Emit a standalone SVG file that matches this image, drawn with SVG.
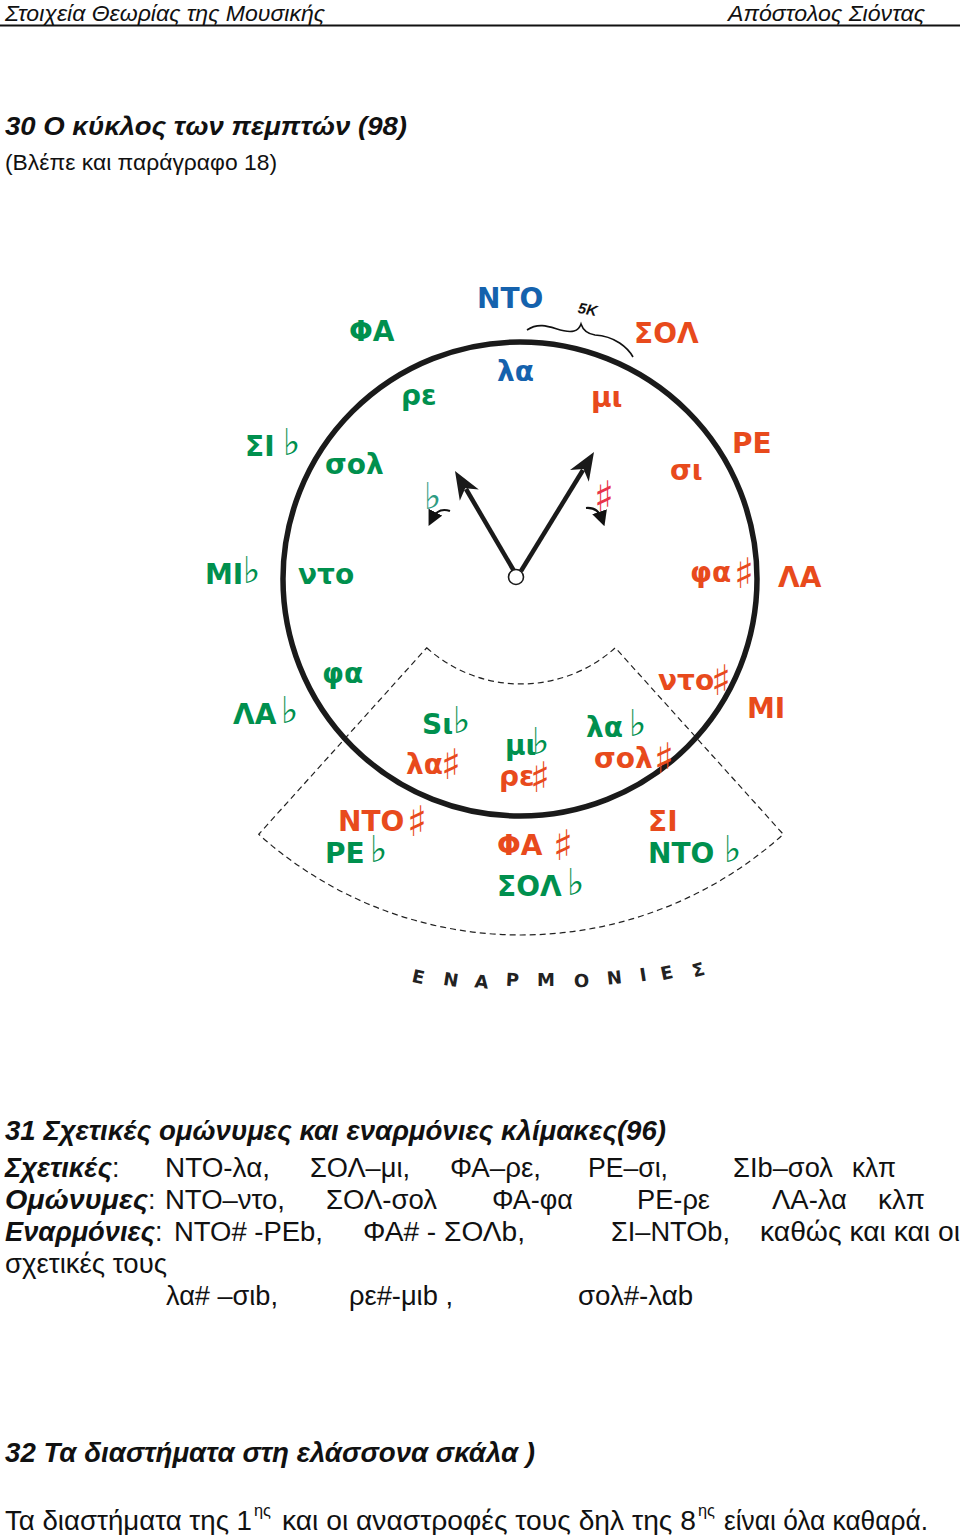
<svg xmlns="http://www.w3.org/2000/svg" width="960" height="1535" viewBox="0 0 960 1535">
<style>
.t{font-family:"Liberation Sans",Arial,sans-serif;fill:#111}
.it{font-style:italic}
.b{font-weight:bold}
.hdr{font-size:22px}
.body{font-size:27px}
.lab{font-family:"DejaVu Sans","Liberation Sans",sans-serif;font-weight:bold;font-size:28px}
.sh{font-family:"DejaVu Sans",sans-serif;font-weight:normal;font-size:42px}
.fl{font-family:"DejaVu Sans",sans-serif;font-weight:normal;font-size:37px}
.g{fill:#00904e}
.o{fill:#e84a1c}
.bl{fill:#1562ad}
.enh{font-family:"DejaVu Sans","Liberation Sans",sans-serif;font-weight:bold;font-size:18px;fill:#222}
</style>
<defs>
<marker id="sm" viewBox="0 0 10 10" refX="5" refY="5" markerWidth="7" markerHeight="7" orient="auto"><path d="M0 0 L10 5 L0 10 z" fill="#111"/></marker>
</defs>
<rect width="960" height="1535" fill="#fff"/>

<g id="header">
<text class="t it hdr" x="5" y="21" textLength="320" lengthAdjust="spacingAndGlyphs">Στοιχεία Θεωρίας της Μουσικής</text>
<text class="t it hdr" x="728" y="21" textLength="197" lengthAdjust="spacingAndGlyphs">Απόστολος Σιόντας</text>
<line x1="0" y1="25.5" x2="960" y2="25.5" stroke="#111" stroke-width="2"/>
</g>

<g id="title30">
<text class="t it b" x="5" y="135" font-size="26" textLength="402" lengthAdjust="spacingAndGlyphs">30 Ο κύκλος των πεμπτών (98)</text>
<text class="t" x="5" y="170" font-size="22" textLength="272" lengthAdjust="spacingAndGlyphs">(Βλέπε και παράγραφο 18)</text>
</g>

<g id="connectors">
<path id="enharmonic-sector" d="M426.7 647.8 A141 141 0 0 0 615.3 647.8 L783.3 834.3 A392 392 0 0 1 258.7 834.3 Z" fill="none" stroke="#222" stroke-width="1.2" stroke-dasharray="6 4"/>
<circle cx="520" cy="579" r="237" fill="none" stroke="#1a1a1a" stroke-width="5.5"/>
<path id="brace" d="M527 330 C545 318 560 335 574 331 C578 330 580 327 581 324 C583 330 588 334 595 335 C615 336 628 348 633 357" fill="none" stroke="#111" stroke-width="1.6"/>
<line x1="514" y1="571" x2="466" y2="489" stroke="#1a1a1a" stroke-width="4.5"/>
<polygon points="455,471 478.8,489.5 465.2,488.2 459.8,500.7" fill="#1a1a1a"/>
<line x1="521" y1="571" x2="583" y2="470" stroke="#1a1a1a" stroke-width="4.5"/>
<polygon points="594,452 588.8,481.7 583.5,469 570,470.1" fill="#1a1a1a"/>
<circle cx="516" cy="577" r="7.5" fill="#fff" stroke="#1a1a1a" stroke-width="1.6"/>
<path d="M450 511 Q438 507 432 519" fill="none" stroke="#111" stroke-width="2.2" marker-end="url(#sm)"/>
<path d="M586 508 Q598 507 602 519" fill="none" stroke="#111" stroke-width="2.2" marker-end="url(#sm)"/>
</g>

<g id="n-5k"><text class="t it b" x="578" y="315" font-size="15" transform="rotate(10 590 310)">5K</text></g>
<g id="n-flat-dir"><text class="fl" x="424" y="509" fill="#2e9c82">♭</text></g>
<g id="n-sharp-dir"><text class="sh" x="594" y="511" fill="#e8334a">♯</text></g>

<g id="n-FA"><text class="lab g" x="349" y="341">ΦΑ</text></g>
<g id="n-NTO"><text class="lab bl" x="477" y="308">ΝΤΟ</text></g>
<g id="n-SOL"><text class="lab o" x="634" y="343">ΣΟΛ</text></g>
<g id="n-la"><text class="lab bl" x="497" y="381">λα</text></g>
<g id="n-re"><text class="lab g" x="401" y="405">ρε</text></g>
<g id="n-mi"><text class="lab o" x="591" y="407">μι</text></g>
<g id="n-SIb"><text class="lab g" x="245" y="456">ΣΙ</text><text class="fl g" x="283" y="455">♭</text></g>
<g id="n-sol"><text class="lab g" x="325" y="474">σολ</text></g>
<g id="n-RE"><text class="lab o" x="732" y="453">ΡΕ</text></g>
<g id="n-si"><text class="lab o" x="670" y="480">σι</text></g>
<g id="n-MIb"><text class="lab g" x="205" y="584">ΜΙ</text><text class="fl g" x="243" y="583">♭</text></g>
<g id="n-nto"><text class="lab g" x="298" y="584">ντο</text></g>
<g id="n-fa-sharp"><text class="lab o" x="690" y="582">φα</text><text class="sh o" x="734" y="588">♯</text></g>
<g id="n-LA"><text class="lab o" x="778" y="587">ΛΑ</text></g>
<g id="n-fa"><text class="lab g" x="322" y="683">φα</text></g>
<g id="n-LAb"><text class="lab g" x="233" y="724">ΛΑ</text><text class="fl g" x="281" y="723">♭</text></g>
<g id="n-nto-sharp"><text class="lab o" x="658" y="690">ντο</text><text class="sh o" x="711" y="695">♯</text></g>
<g id="n-MI"><text class="lab o" x="747" y="718">ΜΙ</text></g>
<g id="n-sib"><text class="lab g" x="422" y="734">Sι</text><text class="fl g" x="453" y="733">♭</text></g>
<g id="n-la-sharp"><text class="lab o" x="406" y="774">λα</text><text class="sh o" x="441" y="779">♯</text></g>
<g id="n-mib"><text class="lab g" x="505" y="755">μι</text><text class="fl g" x="532" y="754">♭</text></g>
<g id="n-re-sharp"><text class="lab o" x="499" y="786">ρε</text><text class="sh o" x="530" y="792">♯</text></g>
<g id="n-lab"><text class="lab g" x="586" y="737">λα</text><text class="fl g" x="629" y="736">♭</text></g>
<g id="n-sol-sharp"><text class="lab o" x="594" y="768">σολ</text><text class="sh o" x="654" y="773">♯</text></g>
<g id="n-NTO-sharp"><text class="lab o" x="338" y="831">ΝΤΟ</text><text class="sh o" x="407" y="836">♯</text></g>
<g id="n-REb"><text class="lab g" x="325" y="863">ΡΕ</text><text class="fl g" x="370" y="862">♭</text></g>
<g id="n-FA-sharp"><text class="lab o" x="497" y="855">ΦΑ</text><text class="sh o" x="553" y="860">♯</text></g>
<g id="n-SOLb"><text class="lab g" x="497" y="896">ΣΟΛ</text><text class="fl g" x="567" y="895">♭</text></g>
<g id="n-SI"><text class="lab o" x="648" y="831">ΣΙ</text></g>
<g id="n-NTOb"><text class="lab g" x="648" y="863">ΝΤΟ</text><text class="fl g" x="724" y="862">♭</text></g>

<g id="n-enarmonies">
<text class="enh" transform="translate(417 983) rotate(12)" text-anchor="middle">Ε</text>
<text class="enh" transform="translate(450 986) rotate(9)" text-anchor="middle">Ν</text>
<text class="enh" transform="translate(481 988) rotate(6)" text-anchor="middle">Α</text>
<text class="enh" transform="translate(512 986) rotate(3)" text-anchor="middle">Ρ</text>
<text class="enh" transform="translate(546 986) rotate(0)" text-anchor="middle">Μ</text>
<text class="enh" transform="translate(582 987) rotate(-3)" text-anchor="middle">Ο</text>
<text class="enh" transform="translate(615 984) rotate(-6)" text-anchor="middle">Ν</text>
<text class="enh" transform="translate(644 981) rotate(-9)" text-anchor="middle">Ι</text>
<text class="enh" transform="translate(668 979) rotate(-12)" text-anchor="middle">Ε</text>
<text class="enh" transform="translate(700 976) rotate(-15)" text-anchor="middle">Σ</text>
</g>

<g id="section31">
<text class="t it b body" x="5" y="1140" textLength="661" lengthAdjust="spacingAndGlyphs">31 Σχετικές ομώνυμες και εναρμόνιες κλίμακες(96)</text>
<text class="t it b body" x="5" y="1177" textLength="107" lengthAdjust="spacingAndGlyphs">Σχετικές</text><text class="t body" x="112" y="1177">:</text>
<text class="t body" x="165" y="1177" textLength="105" lengthAdjust="spacingAndGlyphs">ΝΤΟ-λα,</text>
<text class="t body" x="310" y="1177" textLength="100" lengthAdjust="spacingAndGlyphs">ΣΟΛ–μι,</text>
<text class="t body" x="450" y="1177" textLength="91" lengthAdjust="spacingAndGlyphs">ΦΑ–ρε,</text>
<text class="t body" x="588" y="1177" textLength="80" lengthAdjust="spacingAndGlyphs">ΡΕ–σι,</text>
<text class="t body" x="733" y="1177" textLength="100" lengthAdjust="spacingAndGlyphs">ΣΙb–σολ</text>
<text class="t body" x="852" y="1177" textLength="44" lengthAdjust="spacingAndGlyphs">κλπ</text>

<text class="t it b body" x="5" y="1209" textLength="143" lengthAdjust="spacingAndGlyphs">Ομώνυμες</text><text class="t body" x="148" y="1209">:</text>
<text class="t body" x="165" y="1209" textLength="120" lengthAdjust="spacingAndGlyphs">ΝΤΟ–ντο,</text>
<text class="t body" x="326" y="1209" textLength="111" lengthAdjust="spacingAndGlyphs">ΣΟΛ-σολ</text>
<text class="t body" x="492" y="1209" textLength="81" lengthAdjust="spacingAndGlyphs">ΦΑ-φα</text>
<text class="t body" x="637" y="1209" textLength="73" lengthAdjust="spacingAndGlyphs">ΡΕ-ρε</text>
<text class="t body" x="772" y="1209" textLength="75" lengthAdjust="spacingAndGlyphs">ΛΑ-λα</text>
<text class="t body" x="878" y="1209" textLength="47" lengthAdjust="spacingAndGlyphs">κλπ</text>

<text class="t it b body" x="5" y="1241" textLength="150" lengthAdjust="spacingAndGlyphs">Εναρμόνιες</text><text class="t body" x="155" y="1241">:</text>
<text class="t body" x="174" y="1241" textLength="149" lengthAdjust="spacingAndGlyphs">ΝΤΟ# -ΡΕb,</text>
<text class="t body" x="363" y="1241" textLength="162" lengthAdjust="spacingAndGlyphs">ΦΑ# - ΣΟΛb,</text>
<text class="t body" x="611" y="1241" textLength="119" lengthAdjust="spacingAndGlyphs">ΣΙ–ΝΤΟb,</text>
<text class="t body" x="760" y="1241" textLength="200" lengthAdjust="spacingAndGlyphs">καθώς και και οι</text>

<text class="t body" x="5" y="1273" textLength="162" lengthAdjust="spacingAndGlyphs">σχετικές τους</text>

<text class="t body" x="166" y="1305" textLength="112" lengthAdjust="spacingAndGlyphs">λα# –σιb,</text>
<text class="t body" x="349" y="1305" textLength="104" lengthAdjust="spacingAndGlyphs">ρε#-μιb ,</text>
<text class="t body" x="578" y="1305" textLength="115" lengthAdjust="spacingAndGlyphs">σολ#-λαb</text>
</g>

<g id="section32">
<text class="t it b body" x="5" y="1462" textLength="530" lengthAdjust="spacingAndGlyphs">32 Τα διαστήματα στη ελάσσονα σκάλα )</text>
<text class="t body" x="5" y="1530" textLength="247" lengthAdjust="spacingAndGlyphs">Τα διαστήματα της 1</text>
<text class="t" x="254" y="1516" font-size="17" textLength="17" lengthAdjust="spacingAndGlyphs">ης</text>
<text class="t body" x="282" y="1530" textLength="414" lengthAdjust="spacingAndGlyphs">και οι αναστροφές τους δηλ της 8</text>
<text class="t" x="698" y="1516" font-size="17" textLength="17" lengthAdjust="spacingAndGlyphs">ης</text>
<text class="t body" x="724" y="1530" textLength="204" lengthAdjust="spacingAndGlyphs">είναι όλα καθαρά.</text>
</g>
</svg>
